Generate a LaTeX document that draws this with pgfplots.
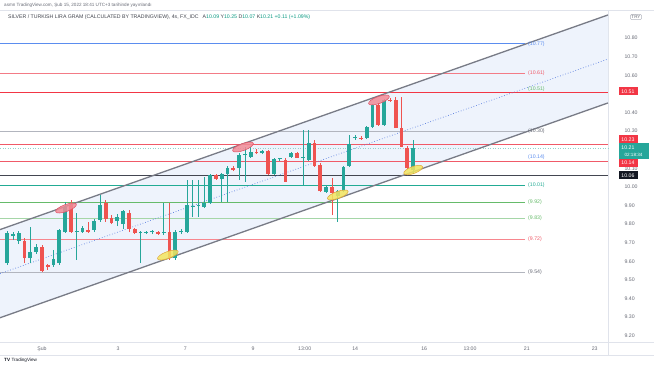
\documentclass[border=0pt]{standalone}
\usepackage{pgfplots}
\pgfplotsset{compat=1.18}
\usepackage{pgfplotstable}
\usetikzlibrary{shapes.geometric}
\usepackage{fontspec}
\setmainfont{Liberation Sans}

\definecolor{upc}{HTML}{26A69A}
\definecolor{dnc}{HTML}{EF5350}
\definecolor{chanfill}{HTML}{EEF3FC}
\definecolor{chanline}{HTML}{787B86}
\definecolor{midline}{HTML}{5B7FE0}
\definecolor{lvlblue}{HTML}{5B8DEF}
\definecolor{lvlred}{HTML}{F05A68}
\definecolor{lvlgray}{HTML}{B2B5BE}
\definecolor{lvlteal}{HTML}{22AB94}
\definecolor{lvlgreen}{HTML}{66BB6A}
\definecolor{lvllgreen}{HTML}{A5D6A7}
\definecolor{lvlpink}{HTML}{F7868E}
\definecolor{lvldark}{HTML}{434651}
\definecolor{txtgray}{HTML}{6A6D78}
\definecolor{ohlc}{HTML}{089981}
\definecolor{pinkfill}{HTML}{F28B96}
\definecolor{pinkdraw}{HTML}{E04F63}
\definecolor{yelfill}{HTML}{F3E55F}
\definecolor{yeldraw}{HTML}{E0A53A}
\definecolor{framec}{HTML}{E0E3EB}
\definecolor{boxred}{HTML}{F23645}
\definecolor{boxteal}{HTML}{26A69A}
\definecolor{boxdark}{HTML}{131722}

\newcommand{\fs}{\fontsize{5.2}{6}\selectfont}
\newcommand{\fss}{\fontsize{4.6}{5}\selectfont}

% bar index, open, high, low, close
\pgfplotstableread{
i o h l c
0 9.591 9.763 9.581 9.753
1 9.737 9.758 9.715 9.747
2 9.710 9.763 9.694 9.753
4 9.618 9.785 9.591 9.651
5 9.651 9.694 9.640 9.677
8 9.581 9.661 9.570 9.613
9 9.591 9.774 9.581 9.769
10 9.758 9.919 9.753 9.892
12 9.760 9.860 9.608 9.764
13 9.758 9.790 9.753 9.780
15 9.769 9.828 9.758 9.817
16 9.823 9.957 9.812 9.903
19 9.817 9.855 9.790 9.839
20 9.801 9.876 9.774 9.871
23 9.752 9.763 9.591 9.755
24 9.753 9.763 9.747 9.758
25 9.756 9.769 9.747 9.759
27 9.753 9.914 9.742 9.757
29 9.618 9.769 9.608 9.758
30 9.758 9.774 9.747 9.763
31 9.758 10.038 9.753 9.903
32 9.894 10.038 9.839 9.898
33 9.898 10.038 9.839 9.903
34 9.892 10.054 9.887 9.914
35 9.914 10.070 9.909 10.065
37 10.043 10.075 9.919 10.070
38 10.070 10.113 9.919 10.102
40 10.102 10.183 10.038 10.172
41 10.172 10.215 10.027 10.177
42 10.161 10.215 10.156 10.188
44 10.183 10.199 10.177 10.194
46 10.070 10.156 10.065 10.151
47 10.150 10.156 10.140 10.153
49 10.161 10.188 10.156 10.183
51 10.155 10.306 10.011 10.158
52 10.145 10.306 10.140 10.237
55 9.973 10.011 9.968 10.000
57 9.952 9.984 9.812 9.978
58 9.978 10.113 9.973 10.108
59 10.113 10.280 10.108 10.231
60 10.263 10.280 10.253 10.269
62 10.263 10.328 10.258 10.323
63 10.323 10.446 10.317 10.441
65 10.333 10.473 10.328 10.468
70 10.090 10.250 10.070 10.210
}\uptab

\pgfplotstableread{
i o h l c
3 9.710 9.726 9.591 9.618
6 9.677 9.688 9.543 9.548
7 9.581 9.586 9.554 9.570
11 9.903 9.930 9.753 9.758
14 9.769 9.812 9.753 9.758
17 9.914 9.930 9.812 9.828
18 9.833 9.849 9.801 9.806
21 9.860 9.876 9.758 9.774
22 9.774 9.780 9.747 9.753
26 9.758 9.763 9.742 9.747
28 9.758 9.914 9.608 9.618
36 10.065 10.070 10.038 10.043
39 10.102 10.113 10.086 10.091
43 10.185 10.204 10.177 10.181
45 10.194 10.199 10.065 10.070
48 10.145 10.156 10.027 10.027
50 10.183 10.188 10.156 10.156
53 10.237 10.253 10.108 10.113
54 10.118 10.129 9.973 9.978
56 10.000 10.048 9.849 9.968
61 10.265 10.274 10.253 10.261
64 10.441 10.452 10.328 10.333
66 10.468 10.478 10.457 10.462
67 10.468 10.484 10.317 10.317
68 10.317 10.484 10.215 10.215
69 10.210 10.220 10.095 10.100
}\dntab

\begin{document}
\begin{tikzpicture}
\useasboundingbox (0pt,0pt) rectangle (654pt,-366pt);
\fill[white] (0pt,0pt) rectangle (654pt,-366pt);
% header
\node[anchor=west, font=\fss, text=txtgray, inner sep=0pt] at (4pt,-5pt) {asmn TradingView.com, Şub 15, 2022 18:41 UTC+3 tarihinde yayınlandı};
\begin{axis}[
  at={(0pt,-342pt)}, anchor=south west,
  scale only axis, width=608pt, height=332pt,
  xmin=-1.241, xmax=103.59, ymin=9.1667, ymax=10.9516,
  axis x line*=bottom, axis y line*=right,
  axis line style={draw=framec, line width=0.6pt, -},
  major tick length=0pt,
  clip=false,
  xtick={6.0,19.1,30.7,42.4,51.3,60.0,71.9,79.8,89.6,101.3},
  xticklabels={Şub,3,7,9,13:00,14,16,13:00,21,23},
  xticklabel style={font=\fs, text=txtgray, yshift=-1.5pt},
  ytick={9.2,9.3,9.4,9.5,9.6,9.7,9.8,9.9,10,10.1,10.3,10.4,10.6,10.7,10.8},
  /pgf/number format/assume math mode=true,
  yticklabel style={font=\fs, text=txtgray, anchor=west, xshift=13pt,
    /pgf/number format/.cd, fixed, fixed zerofill, precision=2},
]
% channel
\addplot[fill=chanfill, draw=none, forget plot] coordinates {(-1.241,9.771) (103.59,10.925) (103.59,10.452) (-1.241,9.297)} -- cycle;
% partial levels
\addplot[lvlblue, line width=0.7pt, forget plot] coordinates {(-1.241,10.77) (89.28,10.77)};
\addplot[lvlred!80, line width=0.7pt, forget plot] coordinates {(-1.241,10.61) (89.28,10.61)};
\addplot[lvlgray, line width=0.7pt, forget plot] coordinates {(-1.241,10.30) (89.28,10.30)};
\addplot[lvlteal, line width=0.7pt, forget plot] coordinates {(-1.241,10.01) (89.28,10.01)};
\addplot[lvlgreen, line width=0.7pt, forget plot] coordinates {(-1.241,9.92) (89.28,9.92)};
\addplot[lvllgreen, line width=0.7pt, forget plot] coordinates {(-1.241,9.83) (89.28,9.83)};
\addplot[lvlpink, line width=0.7pt, forget plot] coordinates {(-1.241,9.72) (89.28,9.72)};
\addplot[lvlgray, line width=0.7pt, forget plot] coordinates {(-1.241,9.54) (89.28,9.54)};
% full-width levels
\addplot[boxred, line width=0.8pt, forget plot] coordinates {(-1.241,10.51) (103.59,10.51)};
\addplot[lvlred, line width=0.8pt, forget plot] coordinates {(-1.241,10.23) (103.59,10.23)};
\addplot[upc!50, line width=0.5pt, dotted, forget plot] coordinates {(-1.241,10.21) (103.59,10.21)};
\addplot[lvlred, line width=0.8pt, forget plot] coordinates {(-1.241,10.14) (103.59,10.14)};
\addplot[lvldark, line width=0.8pt, forget plot] coordinates {(-1.241,10.06) (103.59,10.06)};
% channel lines
\addplot[chanline, line width=1.3pt, forget plot] coordinates {(-1.241,9.771) (103.59,10.925)};
\addplot[chanline, line width=1.3pt, forget plot] coordinates {(-1.241,9.297) (103.59,10.452)};
\addplot[midline, line width=0.7pt, dotted, forget plot] coordinates {(-1.241,9.534) (103.59,10.688)};
% candles: wicks
\addplot[forget plot, draw=none, mark=none,
  error bars/.cd, y dir=plus, y explicit, error mark=none,
  error bar style={line width=0.7pt, draw=upc}]
  table[x=i, y=l, y error expr={\thisrow{h}-\thisrow{l}}] {\uptab};
\addplot[forget plot, draw=none, mark=none,
  error bars/.cd, y dir=plus, y explicit, error mark=none,
  error bar style={line width=0.7pt, draw=dnc}]
  table[x=i, y=l, y error expr={\thisrow{h}-\thisrow{l}}] {\dntab};
% candles: bodies
\addplot[forget plot, draw=none, mark=none,
  error bars/.cd, y dir=plus, y explicit, error mark=none,
  error bar style={line width=3.8pt, draw=upc}]
  table[x=i, y expr={min(\thisrow{o},\thisrow{c})}, y error expr={max(abs(\thisrow{c}-\thisrow{o}),0.005)}] {\uptab};
\addplot[forget plot, draw=none, mark=none,
  error bars/.cd, y dir=plus, y explicit, error mark=none,
  error bar style={line width=3.8pt, draw=dnc}]
  table[x=i, y expr={min(\thisrow{o},\thisrow{c})}, y error expr={max(abs(\thisrow{c}-\thisrow{o}),0.005)}] {\dntab};
% ellipse highlights
\node[ellipse, draw=pinkdraw, fill=pinkfill, fill opacity=0.85, line width=0.5pt, minimum width=22pt, minimum height=7pt, inner sep=0pt, rotate=20] at (axis cs:10.14,9.887) {};
\node[ellipse, draw=pinkdraw, fill=pinkfill, fill opacity=0.85, line width=0.5pt, minimum width=22pt, minimum height=7pt, inner sep=0pt, rotate=20] at (axis cs:40.66,10.215) {};
\node[ellipse, draw=pinkdraw, fill=pinkfill, fill opacity=0.85, line width=0.5pt, minimum width=22pt, minimum height=7pt, inner sep=0pt, rotate=20] at (axis cs:64.1,10.468) {};
\node[ellipse, draw=yeldraw, fill=yelfill, fill opacity=0.85, line width=0.5pt, minimum width=22pt, minimum height=7pt, inner sep=0pt, rotate=20] at (axis cs:27.7,9.634) {};
\node[ellipse, draw=yeldraw, fill=yelfill, fill opacity=0.85, line width=0.5pt, minimum width=22pt, minimum height=7pt, inner sep=0pt, rotate=20] at (axis cs:57.0,9.957) {};
\node[ellipse, draw=yeldraw, fill=yelfill, fill opacity=0.85, line width=0.5pt, minimum width=20pt, minimum height=7pt, inner sep=0pt, rotate=20] at (axis cs:70.0,10.091) {};
% level labels
\node[anchor=west, font=\fs, text=lvlblue, inner sep=0pt] at (axis cs:89.8,10.77) {(10.77)};
\node[anchor=west, font=\fs, text=lvlred, inner sep=0pt] at (axis cs:89.8,10.61) {(10.61)};
\node[anchor=west, font=\fs, text=lvlgreen, inner sep=0pt] at (axis cs:89.8,10.525) {(10.51)};
\node[anchor=west, font=\fs, text=txtgray, inner sep=0pt] at (axis cs:89.8,10.30) {(10.30)};
\node[anchor=west, font=\fs, text=lvlblue, inner sep=0pt] at (axis cs:89.8,10.16) {(10.14)};
\node[anchor=west, font=\fs, text=lvlteal, inner sep=0pt] at (axis cs:89.8,10.01) {(10.01)};
\node[anchor=west, font=\fs, text=lvlgreen, inner sep=0pt] at (axis cs:89.8,9.92) {(9.92)};
\node[anchor=west, font=\fs, text=lvlgreen, inner sep=0pt] at (axis cs:89.8,9.83) {(9.83)};
\node[anchor=west, font=\fs, text=lvlred, inner sep=0pt] at (axis cs:89.8,9.72) {(9.72)};
\node[anchor=west, font=\fs, text=txtgray, inner sep=0pt] at (axis cs:89.8,9.54) {(9.54)};
\end{axis}
% title
\node[anchor=west, font=\fs, text=boxdark!80, inner sep=0pt] at (8pt,-17pt) {SILVER / TURKISH LIRA GRAM (CALCULATED BY TRADINGVIEW), 4s, FX\_IDC\hspace{4pt}A\textcolor{ohlc}{10.09} Y\textcolor{ohlc}{10.25} D\textcolor{ohlc}{10.07} K\textcolor{ohlc}{10.21} \textcolor{ohlc}{+0.11 (+1.09\%)}};
% frame lines
\draw[framec, line width=0.6pt] (0pt,-10pt) -- (654pt,-10pt);
\draw[framec, line width=0.6pt] (608pt,-342pt) -- (654pt,-342pt);
\draw[framec, line width=0.6pt] (0pt,-355pt) -- (654pt,-355pt);
\draw[framec, line width=0.6pt] (608pt,-342pt) -- (608pt,-355pt);
% TRY label
\node[draw=lvlgray, fill=white, line width=0.4pt, font=\fss, text=txtgray, inner sep=1pt, rounded corners=1pt] at (636pt,-17pt) {TRY};
% price boxes
\fill[boxred] (618.5pt,-87.5pt) rectangle (637.5pt,-95.5pt);
\node[font=\fs, text=white, inner sep=0pt] at (628pt,-91.5pt) {10.51};
\fill[boxred] (618.5pt,-135.5pt) rectangle (637.5pt,-143.3pt);
\node[font=\fs, text=white, inner sep=0pt] at (628pt,-139.4pt) {10.23};
\fill[boxteal] (618.5pt,-143.5pt) rectangle (648.5pt,-158.8pt);
\node[font=\fs, text=white, inner sep=0pt] at (628pt,-147.3pt) {10.21};
\node[font=\fss, text=white, inner sep=0pt] at (633.5pt,-154.8pt) {02:18:34};
\fill[boxred] (618.5pt,-159pt) rectangle (637.5pt,-166.8pt);
\node[font=\fs, text=white, inner sep=0pt] at (628pt,-162.9pt) {10.14};
\fill[boxdark] (618.5pt,-171.5pt) rectangle (637.5pt,-179.3pt);
\node[font=\fs, text=white, inner sep=0pt] at (628pt,-175.4pt) {10.06};
% logo
\node[anchor=west, font=\fss, text=boxdark, inner sep=0pt] at (4pt,-360pt) {\textbf{TV}\hspace{1.5pt}TradingView};
\end{tikzpicture}
\end{document}
